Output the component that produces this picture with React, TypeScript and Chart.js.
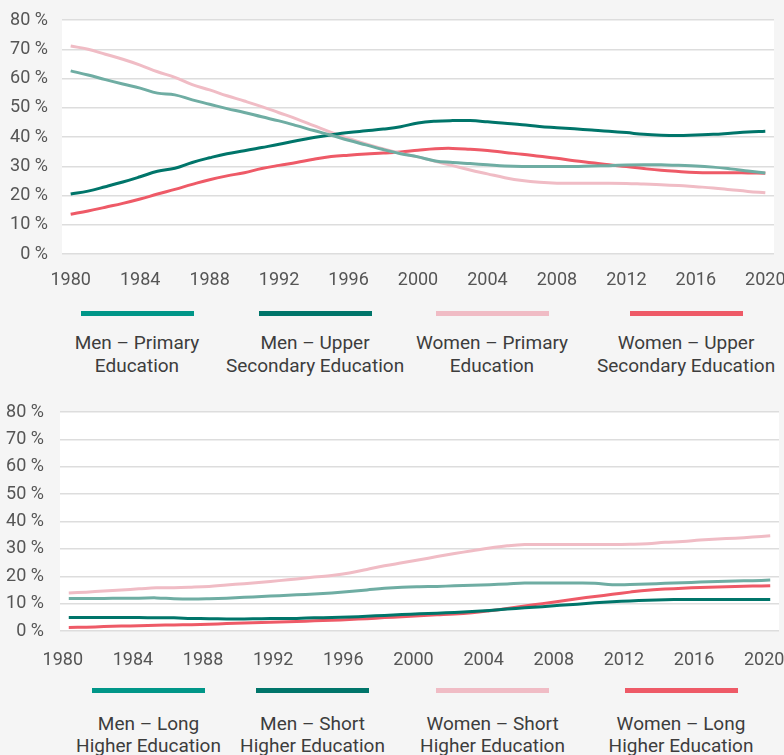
import React, { useEffect, useRef } from "react";
import { Chart, registerables } from "chart.js";

Chart.register(...registerables);

const years = [
  1980, 1981, 1982, 1983, 1984, 1985, 1986, 1987, 1988, 1989,
  1990, 1991, 1992, 1993, 1994, 1995, 1996, 1997, 1998, 1999,
  2000, 2001, 2002, 2003, 2004, 2005, 2006, 2007, 2008, 2009,
  2010, 2011, 2012, 2013, 2014, 2015, 2016, 2017, 2018, 2019, 2020,
];
const tickYears = [1980, 1984, 1988, 1992, 1996, 2000, 2004, 2008, 2012, 2016, 2020];
const yTicks = [0, 10, 20, 30, 40, 50, 60, 70, 80];

// Top chart
const menPrimary = [
  62.6, 61.2, 59.6, 58.1, 56.7, 55.0, 54.4, 52.7, 51.2, 49.7,
  48.4, 46.9, 45.5, 43.9, 42.2, 40.6, 38.9, 37.3, 35.7, 34.3,
  33.2, 31.8, 31.3, 30.9, 30.5, 30.1, 29.9, 29.9, 29.9, 29.9,
  30.1, 30.2, 30.4, 30.5, 30.5, 30.3, 30.1, 29.7, 29.1, 28.4, 27.7,
];
const menUpper = [
  20.5, 21.5, 23.0, 24.6, 26.4, 28.3, 29.3, 31.3, 32.9, 34.3,
  35.3, 36.4, 37.5, 38.7, 39.8, 40.7, 41.5, 42.1, 42.7, 43.5,
  44.8, 45.4, 45.6, 45.6, 45.2, 44.7, 44.2, 43.6, 43.2, 42.8,
  42.4, 42.0, 41.5, 40.9, 40.6, 40.5, 40.7, 40.9, 41.3, 41.7, 42.0,
];
const womenPrimary = [
  71.1, 70.0, 68.3, 66.6, 64.6, 62.3, 60.4, 57.9, 56.1, 54.1,
  52.3, 50.4, 48.3, 46.2, 43.9, 41.6, 39.5, 37.6, 35.9, 34.4,
  33.2, 31.7, 30.2, 28.7, 27.4, 26.1, 25.1, 24.5, 24.2, 24.2,
  24.2, 24.2, 24.1, 23.9, 23.7, 23.4, 23.0, 22.6, 22.0, 21.4, 20.9,
];
const womenUpper = [
  13.6, 14.7, 16.0, 17.3, 18.8, 20.5, 22.1, 23.8, 25.4, 26.7,
  27.8, 29.2, 30.3, 31.3, 32.4, 33.3, 33.8, 34.2, 34.5, 34.9,
  35.5, 36.0, 36.1, 35.8, 35.4, 34.7, 34.1, 33.4, 32.7, 31.9,
  31.2, 30.5, 29.9, 29.2, 28.6, 28.2, 27.9, 27.8, 27.8, 27.7, 27.6,
];

// Bottom chart
const menLong = [
  11.9, 11.9, 11.9, 12.0, 12.0, 12.1, 11.8, 11.7, 11.8, 12.0,
  12.3, 12.6, 12.9, 13.2, 13.5, 13.9, 14.4, 15.0, 15.6, 16.0,
  16.2, 16.3, 16.5, 16.7, 16.9, 17.2, 17.5, 17.5, 17.5, 17.5,
  17.4, 16.9, 17.0, 17.2, 17.4, 17.6, 17.9, 18.1, 18.3, 18.4, 18.6,
];
const menShort = [
  4.9, 4.9, 4.9, 4.9, 4.9, 4.8, 4.8, 4.6, 4.5, 4.4,
  4.4, 4.5, 4.6, 4.6, 4.8, 4.9, 5.1, 5.4, 5.7, 6.0,
  6.3, 6.5, 6.8, 7.1, 7.5, 8.0, 8.5, 8.9, 9.4, 9.8,
  10.3, 10.7, 11.0, 11.2, 11.4, 11.5, 11.5, 11.5, 11.5, 11.5, 11.5,
];
const womenShort = [
  13.9, 14.2, 14.6, 15.0, 15.4, 15.8, 15.8, 16.0, 16.3, 16.8,
  17.3, 17.8, 18.4, 19.0, 19.7, 20.3, 21.2, 22.5, 23.8, 24.9,
  26.0, 27.2, 28.3, 29.3, 30.3, 31.1, 31.6, 31.6, 31.6, 31.6,
  31.6, 31.6, 31.7, 31.9, 32.4, 32.7, 33.2, 33.6, 33.9, 34.3, 34.8,
];
const womenLong = [
  1.3, 1.4, 1.6, 1.8, 1.9, 2.1, 2.2, 2.3, 2.5, 2.7,
  2.9, 3.1, 3.3, 3.5, 3.7, 3.9, 4.2, 4.5, 4.9, 5.2,
  5.6, 5.9, 6.2, 6.7, 7.4, 8.2, 9.1, 10.0, 10.9, 11.8,
  12.6, 13.4, 14.2, 14.9, 15.3, 15.6, 15.9, 16.1, 16.3, 16.4, 16.5,
];

const topLabels = [
  "Men – Primary\nEducation",
  "Men – Upper\nSecondary Education",
  "Women – Primary\nEducation",
  "Women – Upper\nSecondary Education",
];
const bottomLabels = [
  "Men – Long\nHigher Education",
  "Men – Short\nHigher Education",
  "Women – Short\nHigher Education",
  "Women – Long\nHigher Education",
];

const C_TEAL_LIGHT_LINE = "#6fada3";
const C_TEAL_LEGEND = "#009688";
const C_TEAL_DARK = "#00756a";
const C_PINK = "#f0bcc5";
const C_RED = "#ee5a67";

type Series = { label: string; data: number[]; line: string; legend: string };

const topSeries: Series[] = [
  { label: topLabels[0], data: menPrimary, line: C_TEAL_LIGHT_LINE, legend: C_TEAL_LEGEND },
  { label: topLabels[1], data: menUpper, line: C_TEAL_DARK, legend: C_TEAL_DARK },
  { label: topLabels[2], data: womenPrimary, line: C_PINK, legend: C_PINK },
  { label: topLabels[3], data: womenUpper, line: C_RED, legend: C_RED },
];
const bottomSeries: Series[] = [
  { label: bottomLabels[0], data: menLong, line: C_TEAL_LIGHT_LINE, legend: C_TEAL_LEGEND },
  { label: bottomLabels[1], data: menShort, line: C_TEAL_DARK, legend: C_TEAL_DARK },
  { label: bottomLabels[2], data: womenShort, line: C_PINK, legend: C_PINK },
  { label: bottomLabels[3], data: womenLong, line: C_RED, legend: C_RED },
];

const whiteArea = {
  id: "whiteArea",
  beforeDraw(chart: any) {
    const { ctx, chartArea } = chart;
    if (!chartArea) return;
    ctx.save();
    ctx.fillStyle = "#ffffff";
    ctx.fillRect(chartArea.left, chartArea.top, chartArea.right - chartArea.left, chartArea.bottom - chartArea.top);
    ctx.restore();
  },
};

type PanelProps = {
  series: Series[];
  top: number;
  height: number;
  yWidth: number;
  xHeight: number;
  padTop: number;
  padRight: number;
  xPad: number;
  yPad: number;
  labelOffset: number;
};

function LinePanel(p: PanelProps) {
  const ref = useRef<HTMLCanvasElement | null>(null);
  useEffect(() => {
    if (!ref.current) return;
    const font = { family: "Roboto", size: 18 };
    const chart = new Chart(ref.current, {
      type: "line",
      data: {
        labels: years.map(String),
        datasets: p.series.map((s) => ({
          label: s.label,
          data: s.data,
          borderColor: s.line,
          backgroundColor: s.line,
          borderWidth: 3,
          pointRadius: 0,
          tension: 0.4,
          fill: false,
        })),
      },
      options: {
        responsive: false,
        animation: false,
        layout: { padding: { top: p.padTop, right: p.padRight, left: 0, bottom: 0 } },
        plugins: { legend: { display: false }, tooltip: { enabled: false } },
        scales: {
          x: {
            offset: true,
            grid: { display: false, drawTicks: false },
            border: { display: false },
            ticks: {
              autoSkip: false,
              maxRotation: 0,
              minRotation: 0,
              padding: p.xPad,
              labelOffset: p.labelOffset,
              color: "#555555",
              font,
              callback: (_v: any, i: number) =>
                tickYears.includes(years[i]) ? String(years[i]) : "",
            },
            afterFit: (s: any) => {
              s.height = p.xHeight;
              s.paddingLeft = 0;
              s.paddingRight = 0;
            },
          },
          y: {
            min: yTicks[0],
            max: yTicks[yTicks.length - 1],
            grid: { color: "#dddddd", lineWidth: 1.5, drawTicks: false },
            border: { display: false },
            ticks: {
              stepSize: 10,
              padding: p.yPad,
              color: "#555555",
              font,
              callback: (v: any) => `${v} %`,
            },
            afterFit: (s: any) => {
              s.width = p.yWidth;
              s.paddingTop = 0;
              s.paddingBottom = 0;
            },
          },
        },
      } as any,
      plugins: [whiteArea],
    });
    return () => chart.destroy();
  }, []);
  return (
    <div style={{ position: "absolute", left: 0, top: p.top, width: 784, height: p.height }}>
      <canvas ref={ref} width={784} height={p.height} style={{ display: "block" }} />
    </div>
  );
}

type LegendProps = {
  series: Series[];
  centers: number[];
  lineTop: number;
  textTop: number;
  lineHeight: number;
};

function Legend(p: LegendProps) {
  return (
    <>
      {p.series.map((s, i) => (
        <React.Fragment key={i}>
          <div
            style={{
              position: "absolute",
              left: p.centers[i] - 56.5,
              top: p.lineTop,
              width: 113,
              height: 5,
              background: s.legend,
            }}
          />
          <div
            style={{
              position: "absolute",
              left: p.centers[i] - 110,
              top: p.textTop,
              width: 220,
              textAlign: "center",
              whiteSpace: "pre-line",
              fontFamily: "Roboto",
              fontSize: 19,
              lineHeight: `${p.lineHeight}px`,
              color: "#3d3d3d",
            }}
          >
            {s.label}
          </div>
        </React.Fragment>
      ))}
    </>
  );
}

export default function App() {
  return (
    <div
      style={{
        position: "fixed",
        left: 0,
        top: 0,
        width: 784,
        height: 755,
        background: "#f5f5f5",
        overflow: "hidden",
      }}
    >
      <LinePanel
        series={topSeries}
        top={0}
        height={300}
        yWidth={62}
        xHeight={46}
        padTop={20}
        padRight={10}
        xPad={16}
        yPad={14}
        labelOffset={0}
      />
      <Legend series={topSeries} centers={[137, 315, 492, 686]} lineTop={311} textTop={331} lineHeight={23} />
      <LinePanel
        series={bottomSeries}
        top={392}
        height={290}
        yWidth={60}
        xHeight={51}
        padTop={20}
        padRight={5}
        xPad={19}
        yPad={16}
        labelOffset={-6}
      />
      <Legend series={bottomSeries} centers={[148.5, 312.5, 492.5, 681]} lineTop={688} textTop={713} lineHeight={22} />
    </div>
  );
}
